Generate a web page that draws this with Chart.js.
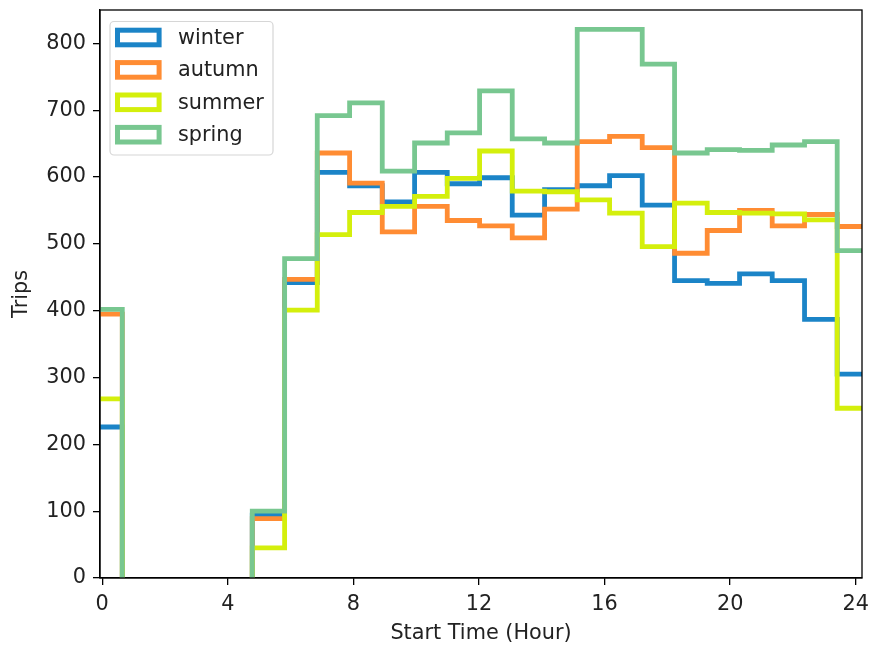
<!DOCTYPE html>
<html>
<head>
<meta charset="utf-8">
<title>Trips by start hour</title>
<script src="https://cdn.jsdelivr.net/npm/chart.js@4.4.1/dist/chart.umd.min.js"></script>
<style>
  body { margin: 0; background: #fff; }
  #wrap { width: 874px; height: 650px; }
</style>
</head>
<body>
<div id="wrap"><canvas id="tripsChart" width="874" height="650"></canvas></div>
<script>
// histogram bins (start hour), one count per bin for each season
const binEdges = [-0.4, 0.64, 1.67, 2.71, 3.74, 4.78, 5.81, 6.85, 7.88, 8.92, 9.95, 10.99,
  12.02, 13.06, 14.09, 15.13, 16.16, 17.2, 18.23, 19.27, 20.3, 21.34, 22.37, 23.41, 24.44];

const winter = [226, 0, 0, 0, 0, 94, 442, 607, 587, 563, 607, 590, 599, 543, 581, 587, 602, 558, 445, 441, 455, 445, 387, 305];
const autumn = [395, 0, 0, 0, 0, 89, 447, 636, 591, 518, 556, 535, 527, 509, 552, 653, 661, 644, 486, 520, 550, 527, 544, 526];
const summer = [268, 0, 0, 0, 0, 45, 401, 514, 547, 556, 571, 598, 639, 579, 578, 566, 546, 496, 561, 547, 546, 545, 536, 254];
const spring = [402, 0, 0, 0, 0, 100, 478, 692, 711, 609, 651, 666, 729, 657, 651, 821, 821, 769, 636, 641, 640, 648, 653, 490];

const seasonNames = ['winter', 'autumn', 'summer', 'spring'];
const seasonColors = ['#1b84c7', '#ff8c33', '#d4ef0c', '#78c790'];

const xTickValues = [0, 4, 8, 12, 16, 20, 24];
const yTickValues = [0, 100, 200, 300, 400, 500, 600, 700, 800];

const FONT = "'DejaVu Sans', sans-serif";
const FONT_SIZE = 20.8;
const TEXT = '#222';

// turn bin counts into step outline points (empty bins leave a gap)
function stepPoints(counts) {
  var pts = [];
  counts.forEach(function (c, i) {
    var x = binEdges[i];
    if (c === 0) {
      pts.push({ x: x, y: 0 }, { x: x, y: null });
      return;
    }
    if (i === 0 || counts[i - 1] === 0) pts.push({ x: x, y: 0 });
    pts.push({ x: x, y: c });
  });
  var n = counts.length;
  pts.push({ x: binEdges[n], y: counts[n - 1] }, { x: binEdges[n], y: 0 });
  return pts;
}

var seriesData = [winter, autumn, summer, spring];
var datasets = seriesData.map(function (counts, i) {
  return {
    label: seasonNames[i],
    data: stepPoints(counts),
    borderColor: seasonColors[i],
    backgroundColor: seasonColors[i],
    borderWidth: 4.8,
    stepped: 'before',
    pointRadius: 0,
    fill: false,
    order: seriesData.length - i   // later seasons drawn on top
  };
});

// boxed legend in the upper left + top/right frame lines
const frameAndLegend = {
  id: 'frameAndLegend',
  afterDraw: function (chart) {
    var ctx = chart.ctx;
    var a = chart.chartArea;
    ctx.save();
    ctx.strokeStyle = '#000';
    ctx.lineWidth = 1.3;
    ctx.strokeRect(a.left, a.top, a.right - a.left, a.bottom - a.top);

    var bx = a.left + 10, by = a.top + 11.5, bw = 163, bh = 133.5;
    ctx.beginPath();
    ctx.roundRect(bx, by, bw, bh, 4);
    ctx.fillStyle = 'rgba(255,255,255,0.8)';
    ctx.fill();
    ctx.strokeStyle = '#d6d6d6';
    ctx.lineWidth = 1.2;
    ctx.stroke();

    ctx.font = FONT_SIZE + 'px ' + FONT;
    ctx.textBaseline = 'middle';
    ctx.textAlign = 'left';
    seasonNames.forEach(function (name, i) {
      var cy = a.top + 27.5 + i * 32.4;
      ctx.strokeStyle = seasonColors[i];
      ctx.lineWidth = 5;
      ctx.strokeRect(a.left + 17.5, cy - 7.3, 41.6, 14.6);
      ctx.fillStyle = TEXT;
      ctx.fillText(name, a.left + 78, cy + 1);
    });
    ctx.restore();
  }
};

function noLabelOverflow(scale) {
  scale.paddingTop = 0;
  scale.paddingBottom = 0;
  scale.paddingLeft = 0;
  scale.paddingRight = 0;
}

new Chart(document.getElementById('tripsChart'), {
  type: 'line',
  data: { datasets: datasets },
  plugins: [frameAndLegend],
  options: {
    responsive: false,
    animation: false,
    layout: { padding: { left: 0, top: 10, right: 12, bottom: 0 } },
    plugins: {
      legend: { display: false },
      tooltip: { enabled: false }
    },
    scales: {
      x: {
        type: 'linear',
        min: -0.07,
        max: 24.2,
        afterBuildTicks: function (scale) {
          scale.ticks = xTickValues.map(function (v) { return { value: v }; });
        },
        afterFit: function (scale) { scale.height = 72; noLabelOverflow(scale); },
        grid: { drawOnChartArea: false, drawTicks: true, tickLength: 7, color: '#000', lineWidth: 1.3 },
        border: { display: true, color: '#000', width: 1.3 },
        ticks: { font: { family: FONT, size: FONT_SIZE }, color: TEXT, padding: 7, maxRotation: 0 },
        title: {
          display: true, text: 'Start Time (Hour)',
          font: { family: FONT, size: FONT_SIZE }, color: TEXT,
          padding: { top: 0, bottom: 4 }
        }
      },
      y: {
        min: 0,
        max: 850,
        afterBuildTicks: function (scale) {
          scale.ticks = yTickValues.map(function (v) { return { value: v }; });
        },
        afterFit: function (scale) { scale.width = 100; noLabelOverflow(scale); },
        grid: { drawOnChartArea: false, drawTicks: true, tickLength: 7, color: '#000', lineWidth: 1.3 },
        border: { display: true, color: '#000', width: 1.3 },
        ticks: { font: { family: FONT, size: FONT_SIZE }, color: TEXT, padding: 7 },
        title: {
          display: true, text: 'Trips',
          font: { family: FONT, size: FONT_SIZE }, color: TEXT,
          padding: { top: 9, bottom: 0 }
        }
      }
    }
  }
});
</script>
</body>
</html>
